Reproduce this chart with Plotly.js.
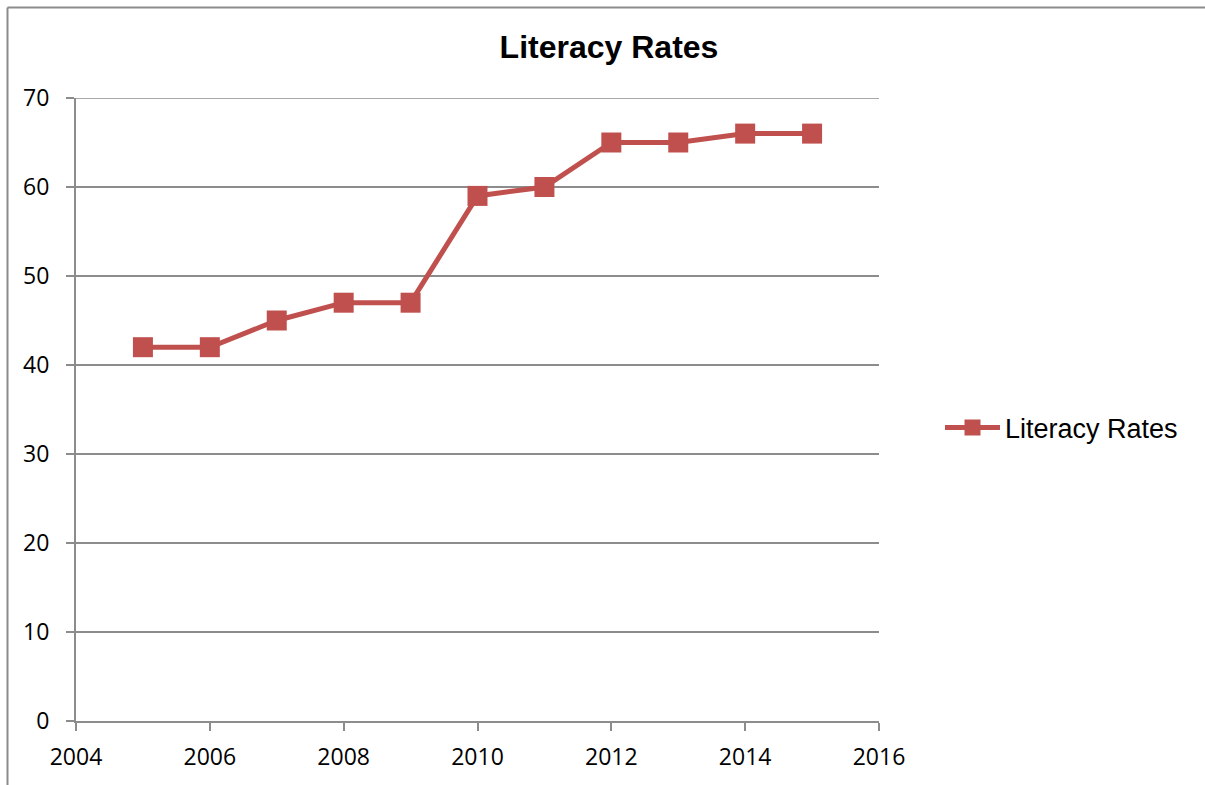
<!DOCTYPE html>
<html>
<head>
<meta charset="utf-8">
<script src="https://cdn.plot.ly/plotly-3.0.1.min.js"></script>
<style>
html,body{margin:0;padding:0;background:#fff;}
#chart{width:1205px;height:785px;}
</style>
</head>
<body>
<div id="chart"></div>
<script>
const years = [2005, 2006, 2007, 2008, 2009, 2010, 2011, 2012, 2013, 2014, 2015];
const rates = [42, 42, 45, 47, 47, 59, 60, 65, 65, 66, 66];
const seriesName = 'Literacy Rates';
const chartTitle = 'Literacy Rates';
const yMax = 70;

const L = 76, R = 879, T = 98, B = 721, W = 1205, H = 785;
const pw = R - L, ph = B - T;
const px = v => (v - L) / pw;
const py = v => (B - v) / ph;

const trace = {
  x: years, y: rates, type: 'scatter', mode: 'lines+markers', name: seriesName,
  line: {color: '#C0504D', width: 5},
  marker: {symbol: 'square', size: 20, color: '#C0504D'}
};

const tickFont = {family: 'Open Sans, Liberation Sans, sans-serif', size: 23, color: '#000'};

const layout = {
  width: W, height: H,
  margin: {l: L, r: W - R, t: T, b: H - B, pad: 0},
  paper_bgcolor: '#fff', plot_bgcolor: '#fff',
  title: {text: '<b>' + chartTitle + '</b>', x: 609 / W, xanchor: 'center', xref: 'container',
          y: 1 - 47 / H, yanchor: 'middle', yref: 'container',
          font: {family: 'Liberation Sans, Arial, sans-serif', size: 32, color: '#000'}},
  xaxis: {range: [2004, 2016], dtick: 2, tick0: 2004, showgrid: false, zeroline: false,
          showline: true, linecolor: '#8c8c8c', linewidth: 2,
          ticks: 'outside', ticklen: 8, tickwidth: 2, tickcolor: '#8c8c8c',
          ticklabelstandoff: 6,
          tickfont: tickFont, fixedrange: true},
  yaxis: {range: [0, yMax], dtick: 10, showgrid: true, gridcolor: '#8c8c8c', gridwidth: 1.5,
          zeroline: false, showline: true, linecolor: '#8c8c8c', linewidth: 2,
          ticks: 'outside', ticklen: 8, tickwidth: 2, tickcolor: '#8c8c8c',
          ticklabelstandoff: 12,
          tickfont: tickFont, fixedrange: true},
  showlegend: true,
  legend: {x: px(940), xanchor: 'left', y: py(428), yanchor: 'middle',
           font: {family: 'Liberation Sans, Arial, sans-serif', size: 27, color: '#000'},
           itemwidth: 55, bgcolor: 'rgba(0,0,0,0)'},
  shapes: [
    {type: 'line', xref: 'paper', yref: 'y', x0: 0, x1: 1, y0: yMax, y1: yMax,
     line: {color: '#8c8c8c', width: 1.5}, layer: 'below'},
    {type: 'line', xref: 'paper', yref: 'paper', x0: px(7.5), x1: px(W + 5), y0: py(7.5), y1: py(7.5),
     line: {color: '#8c8c8c', width: 2}},
    {type: 'line', xref: 'paper', yref: 'paper', x0: px(7.5), x1: px(7.5), y0: py(7.5), y1: py(H + 5),
     line: {color: '#8c8c8c', width: 2}}
  ]
};

Plotly.newPlot('chart', [trace], layout, {displayModeBar: false, staticPlot: true});
</script>
</body>
</html>
